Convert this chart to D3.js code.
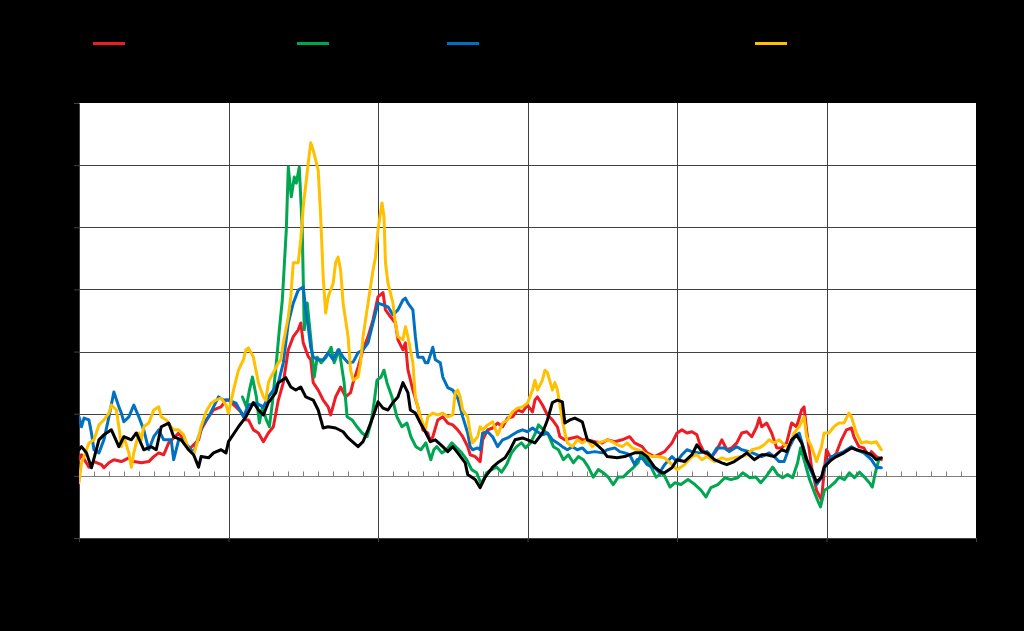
<!DOCTYPE html>
<html><head><meta charset="utf-8">
<script src="https://cdn.jsdelivr.net/npm/d3@7"></script>
<style>html,body{margin:0;padding:0;background:#000;}svg{display:block}</style>
</head><body>
<svg id="chart" width="1024" height="631"></svg>
<script>
// x values: months since start of 1985; y values: basis points
const xTickMonths = [0, 60, 120, 180, 240, 300, 360];
const xTickLabels = ["1985", "1990", "1995", "2000", "2005", "2010", "2015"];
const yTicks = [-100, 0, 100, 200, 300, 400, 500, 600];
const seriesNames = ["Series 1", "Series 2", "Series 3", "Series 4", "Series 5"];
const seriesColors = ["#ee1c24", "#00a651", "#0070c0", "#ffc000", "#000000"];

const redData = [[0,26],[1,34],[4,14],[6,23],[9,18],[10,13],[12,21],[14,26],[17,23],[20,29],[22,23],[25,21],[28,23],[30,31],[32,37],[34,34],[36,53],[38,61],[40,69],[42,58],[44,42],[48,58],[49,74],[52,95],[54,106],[57,111],[59,122],[60,122],[63,111],[65,103],[67,90],[68,90],[70,74],[72,69],[74,55],[76,69],[78,79],[80,122],[82,150],[84,203],[86,224],[88,235],[89,246],[90,214],[92,192],[93,187],[94,150],[96,138],[98,122],[100,111],[101,98],[103,127],[105,143],[107,127],[109,134],[110,150],[112,175],[114,203],[116,224],[118,251],[120,288],[122,295],[123,267],[125,256],[127,246],[128,219],[130,203],[131,214],[132,171],[134,138],[136,111],[138,74],[140,69],[141,55],[142,63],[144,90],[146,95],[148,85],[150,82],[152,74],[154,63],[156,47],[157,34],[159,31],[161,23],[162,58],[164,74],[166,77],[168,85],[170,79],[172,93],[174,95],[176,106],[178,103],[180,114],[182,103],[183,122],[184,127],[186,114],[188,98],[190,90],[192,79],[193,63],[195,58],[198,61],[200,63],[202,58],[204,58],[207,55],[210,53],[212,58],[215,55],[218,58],[221,63],[223,53],[226,47],[228,37],[231,31],[235,39],[238,53],[240,69],[242,74],[244,69],[246,71],[248,66],[249,53],[251,37],[254,31],[256,42],[258,58],[260,42],[262,45],[264,53],[266,69],[268,71],[270,63],[272,79],[273,93],[274,79],[276,85],[278,69],[280,45],[282,45],[284,53],[286,85],[288,79],[290,106],[291,111],[292,74],[294,14],[296,-23],[298,-39],[299,5],[300,42],[302,26],[304,37],[306,58],[308,74],[310,77],[311,63],[313,47],[315,45],[317,31],[318,39],[320,31],[322,26]];

const greenData = [[65.6,127],[67.2,111],[68.4,138],[69.6,159],[71.2,127],[72.4,85],[73.6,111],[75.2,90],[76.4,79],[77.6,117],[79.2,182],[80.4,235],[81.6,283],[83.2,396],[84,497],[85.2,449],[86.4,481],[87.2,471],[88.4,497],[89.6,396],[90.4,235],[91.6,278],[93.2,214],[94.4,159],[95.6,191],[97.2,182],[99.2,191],[101.2,207],[102.4,182],[104.4,203],[106.4,150],[107.6,95],[109.6,90],[111.6,79],[113.6,69],[115.6,63],[117.2,85],[118.4,117],[119.6,154],[121.2,159],[122.4,170],[123.6,150],[125.6,127],[127.6,95],[129.6,79],[131.6,85],[133.2,63],[135.2,47],[137.2,42],[139.2,53],[141.2,26],[142.4,42],[143.6,47],[145.6,37],[147.6,42],[149.6,53],[151.6,45],[153.6,37],[155.6,26],[157.6,10],[159.6,5],[161.2,-11],[162.4,-6],[163.6,5],[165.6,10],[167.6,14],[169.6,6],[171.6,18],[173.6,37],[175.6,47],[177.6,53],[179.2,45],[181.2,53],[183.2,69],[184.4,82],[186.4,74],[188.4,66],[190.4,47],[192.4,42],[194.4,26],[196.4,34],[198.4,21],[200.4,31],[202.4,26],[204.4,14],[206.4,-2],[208.4,10],[210.4,5],[212.4,-2],[214.4,-14],[216.4,-2],[218.4,-2],[220.4,6],[222.4,13],[224.4,21],[225.6,37],[227.6,26],[229.6,14],[231.6,-2],[234.4,5],[237.2,-18],[239.2,-11],[241.6,-14],[244.4,-6],[247.2,-14],[249.6,-23],[251.6,-34],[253.6,-19],[256.4,-14],[259.2,-3],[261.6,-6],[264.4,-3],[266.4,5],[269.2,-3],[271.6,-2],[273.6,-11],[275.6,-2],[278.4,14],[280.4,2],[282.4,-3],[284.4,2],[286.4,-3],[288.4,21],[289.6,45],[291.2,23],[293.2,-6],[295.2,-27],[296.4,-39],[297.6,-50],[299.2,-23],[301.2,-18],[303.2,-11],[305.2,-2],[307.2,-6],[309.2,5],[311.2,-3],[313.2,6],[315.2,-2],[317.2,-11],[318.4,-18],[319.6,5],[321.2,29]];

const blueData = [[0,95],[1,79],[2,93],[4,90],[5,69],[6,42],[8,37],[10,58],[12,95],[14,135],[16,111],[17,101],[18,87],[20,95],[22,114],[24,95],[26,74],[27,58],[28,42],[30,63],[32,74],[34,58],[37,58],[38,26],[40,58],[42,58],[44,47],[46,37],[48,63],[50,85],[52,95],[54,111],[56,127],[58,122],[60,122],[63,117],[66,95],[68,114],[71,117],[74,111],[76,127],[78,138],[80,150],[82,182],[84,246],[86,278],[88,299],[90,304],[91,267],[92,240],[93,207],[94,191],[96,187],[98,187],[100,198],[102,187],[104,203],[106,191],[108,182],[110,183],[112,198],[114,203],[116,214],[118,246],[120,278],[122,275],[124,272],[126,259],[128,267],[130,283],[131,286],[132,278],[134,267],[135,224],[136,191],[138,191],[139,182],[140,182],[142,207],[143,187],[145,182],[146,159],[148,142],[150,138],[152,125],[153,111],[154,95],[156,69],[157,47],[158,42],[160,45],[161,42],[162,69],[164,71],[166,63],[168,47],[170,58],[172,61],[174,66],[176,71],[178,74],[180,71],[182,77],[184,71],[186,66],[188,69],[190,58],[192,53],[194,47],[196,42],[198,47],[200,42],[202,45],[204,37],[207,39],[210,37],[212,42],[215,45],[217,39],[219,37],[221,34],[223,18],[224,26],[226,29],[228,18],[231,13],[233,5],[235,18],[238,31],[240,23],[242,34],[244,42],[246,39],[249,37],[252,39],[254,31],[256,45],[259,45],[261,39],[264,47],[266,42],[269,39],[272,34],[274,31],[277,37],[279,31],[281,23],[283,23],[285,45],[287,61],[289,69],[291,42],[293,14],[295,-3],[296,-14],[298,-3],[300,21],[302,31],[304,34],[307,39],[310,47],[312,42],[315,37],[318,26],[320,14],[322,13]];

const yellowData = [[0,-11],[1,21],[2,31],[4,53],[6,58],[8,82],[10,90],[12,101],[13,114],[15,106],[16,79],[17,47],[18,63],[20,37],[21,14],[22,37],[24,69],[25,58],[26,79],[28,85],[30,106],[32,111],[33,95],[35,90],[37,79],[38,74],[40,74],[42,66],[44,42],[46,34],[47,47],[49,79],[51,103],[53,117],[55,122],[57,125],[59,114],[60,101],[62,138],[64,170],[66,187],[67,203],[68,206],[70,191],[71,170],[72,150],[74,127],[75,122],[76,150],[77,159],[78,166],[80,182],[81,187],[82,214],[84,256],[85,288],[86,343],[88,343],[89,380],[90,433],[92,503],[93,536],[94,524],[96,492],[97,417],[98,320],[99,262],[100,288],[102,310],[103,343],[104,352],[105,331],[106,278],[108,224],[109,170],[110,154],[112,159],[113,182],[114,224],[116,278],[118,331],[119,352],[120,396],[121.6,439],[122.4,417],[123,343],[124,310],[126,278],[127,246],[128,224],[130,219],[131,240],[132,224],[134,182],[135,127],[137,95],[139,74],[140,95],[142,101],[144,98],[146,101],[148,95],[150,98],[151,134],[152,138],[153,127],[154,106],[156,95],[157,69],[158,53],[160,63],[161,79],[162,74],[164,82],[166,87],[168,66],[170,85],[172,90],[174,103],[176,109],[178,111],[180,117],[182,138],[183,154],[184,138],[186,154],[187,170],[188,166],[190,138],[191,150],[192,138],[194,90],[195,69],[196,53],[198,47],[200,58],[202,53],[204,58],[206,47],[208,53],[210,55],[212,58],[214,55],[216,50],[218,47],[220,53],[222,45],[224,42],[226,39],[228,34],[230,31],[232,31],[235,29],[238,18],[240,10],[243,18],[246,31],[248,34],[250,26],[252,31],[255,23],[258,29],[260,26],[263,29],[266,31],[268,34],[270,42],[273,45],[275,50],[277,58],[279,53],[281,58],[283,50],[285,47],[287,69],[289,79],[291,95],[292,63],[294,47],[296,23],[298,47],[299,69],[301,69],[303,79],[305,85],[307,85],[309,101],[310,95],[312,69],[314,53],[316,55],[318,53],[320,55],[322,42]];

const blackData = [[0,42],[1,47],[3,37],[5,13],[8,58],[10,66],[13,74],[16,47],[18,63],[21,58],[23,69],[26,42],[29,47],[31,42],[33,79],[36,85],[38,63],[41,58],[44,42],[46,34],[48,14],[49,31],[52,29],[54,37],[57,42],[59,37],[60,55],[64,79],[67,95],[70,118],[72,106],[74,98],[76,118],[79,134],[80,150],[83,158],[85,143],[87,138],[89,143],[91,127],[94,122],[96,106],[98,77],[100,79],[103,77],[106,71],[108,61],[112,47],[114,55],[116,74],[118,95],[120,119],[122,109],[124,106],[126,118],[128,127],[130,150],[132,134],[133,106],[135,101],[137,85],[139,71],[141,55],[143,58],[146,47],[148,39],[150,47],[152,37],[155,21],[156,2],[159,-6],[161,-19],[163,-2],[166,14],[168,21],[171,29],[173,42],[175,58],[178,61],[180,58],[183,53],[186,69],[188,90],[190,118],[192,122],[194,119],[195,85],[197,90],[199,93],[202,87],[204,58],[207,53],[210,42],[212,31],[216,29],[219,31],[223,37],[226,37],[228,31],[231,14],[234,5],[235,5],[238,13],[240,26],[243,23],[246,34],[248,50],[250,39],[252,37],[255,26],[258,21],[260,18],[263,23],[266,31],[268,37],[271,26],[274,34],[276,34],[279,31],[282,42],[284,39],[286,58],[288,66],[290,53],[292,26],[294,10],[296,-10],[298,-2],[299,14],[302,26],[304,31],[307,37],[310,45],[312,42],[315,39],[318,34],[320,26],[322,29]];

const allSeries = [redData, greenData, blueData, yellowData, blackData];

const W = 1024, H = 631;
const plot = {left: 79, top: 103, right: 976, bottom: 538};
const svg = d3.select("#chart");
svg.append("rect").attr("width", W).attr("height", H).attr("fill", "#000");

const x = d3.scaleLinear().domain([0, 360]).range([plot.left, plot.right]);
const y = d3.scaleLinear().domain([-100, 600]).range([plot.bottom, plot.top]);

svg.append("rect")
  .attr("x", plot.left).attr("y", plot.top)
  .attr("width", plot.right - plot.left).attr("height", plot.bottom - plot.top)
  .attr("fill", "#fff");

// horizontal gridlines
svg.append("g").selectAll("line").data(yTicks.filter(d => d !== 0 && d !== -100 && d !== 600))
  .join("line")
  .attr("x1", plot.left).attr("x2", plot.right)
  .attr("y1", d => Math.round(y(d)) + 0.5).attr("y2", d => Math.round(y(d)) + 0.5)
  .attr("stroke", "#404040").attr("stroke-width", 1);

// vertical gridlines
svg.append("g").selectAll("line").data(xTickMonths.slice(1, -1))
  .join("line")
  .attr("x1", d => Math.round(x(d)) + 0.5).attr("x2", d => Math.round(x(d)) + 0.5)
  .attr("y1", plot.top).attr("y2", plot.bottom)
  .attr("stroke", "#404040").attr("stroke-width", 1);

// zero line with minor ticks every 6 months
const y0 = Math.round(y(0)) + 0.5;
svg.append("line").attr("x1", plot.left).attr("x2", plot.right)
  .attr("y1", y0).attr("y2", y0).attr("stroke", "#7f7f7f").attr("stroke-width", 1);
const minorMonths = d3.range(6, 360, 6).filter(d => d % 60 !== 0);
svg.append("g").selectAll("line").data(minorMonths).join("line")
  .attr("x1", d => Math.round(x(d)) + 0.5).attr("x2", d => Math.round(x(d)) + 0.5)
  .attr("y1", y0).attr("y2", y0 - 5)
  .attr("stroke", "#7f7f7f").attr("stroke-width", 1);

// outer axes (ticks + black labels)
const yAxis = d3.axisLeft(y).tickValues(yTicks).tickSize(5).tickSizeOuter(0);
const gy = svg.append("g").attr("transform", `translate(${plot.left},0)`).call(yAxis);
gy.select(".domain").attr("stroke", "#404040");
gy.selectAll(".tick line").attr("stroke", "#404040");
gy.selectAll("text").attr("fill", "#000").style("font-family", "Arial, Liberation Sans, sans-serif").style("font-size", "14px");

const xAxis = d3.axisBottom(x).tickValues(xTickMonths).tickFormat((d, i) => xTickLabels[i]).tickSize(4).tickSizeOuter(0);
const gx = svg.append("g").attr("transform", `translate(0,${plot.bottom})`).call(xAxis);
gx.select(".domain").attr("stroke", "#404040");
gx.selectAll(".tick line").attr("stroke", "#404040");
gx.selectAll("text").attr("fill", "#000").style("font-family", "Arial, Liberation Sans, sans-serif").style("font-size", "14px");

// clip
svg.append("clipPath").attr("id", "clip").append("rect")
  .attr("x", plot.left).attr("y", plot.top)
  .attr("width", plot.right - plot.left).attr("height", plot.bottom - plot.top);

const line = d3.line().x(d => x(d[0])).y(d => y(d[1]));
svg.append("g").attr("clip-path", "url(#clip)")
  .selectAll("path").data(allSeries).join("path")
  .attr("d", line)
  .attr("fill", "none")
  .attr("stroke", (d, i) => seriesColors[i])
  .attr("stroke-width", 3)
  .attr("stroke-linejoin", "round")
  .attr("stroke-linecap", "round");

// legend
const legendX = [93, 297, 447, 755, 600];
const lg = svg.append("g");
seriesNames.forEach((name, i) => {
  lg.append("line").attr("x1", legendX[i]).attr("x2", legendX[i] + 32)
    .attr("y1", 43.5).attr("y2", 43.5)
    .attr("stroke", seriesColors[i]).attr("stroke-width", 3);
  lg.append("text").attr("x", legendX[i] + 38).attr("y", 48)
    .attr("fill", "#000").style("font-family", "Arial, Liberation Sans, sans-serif")
    .style("font-size", "14px").text(name);
});
</script>
</body></html>
